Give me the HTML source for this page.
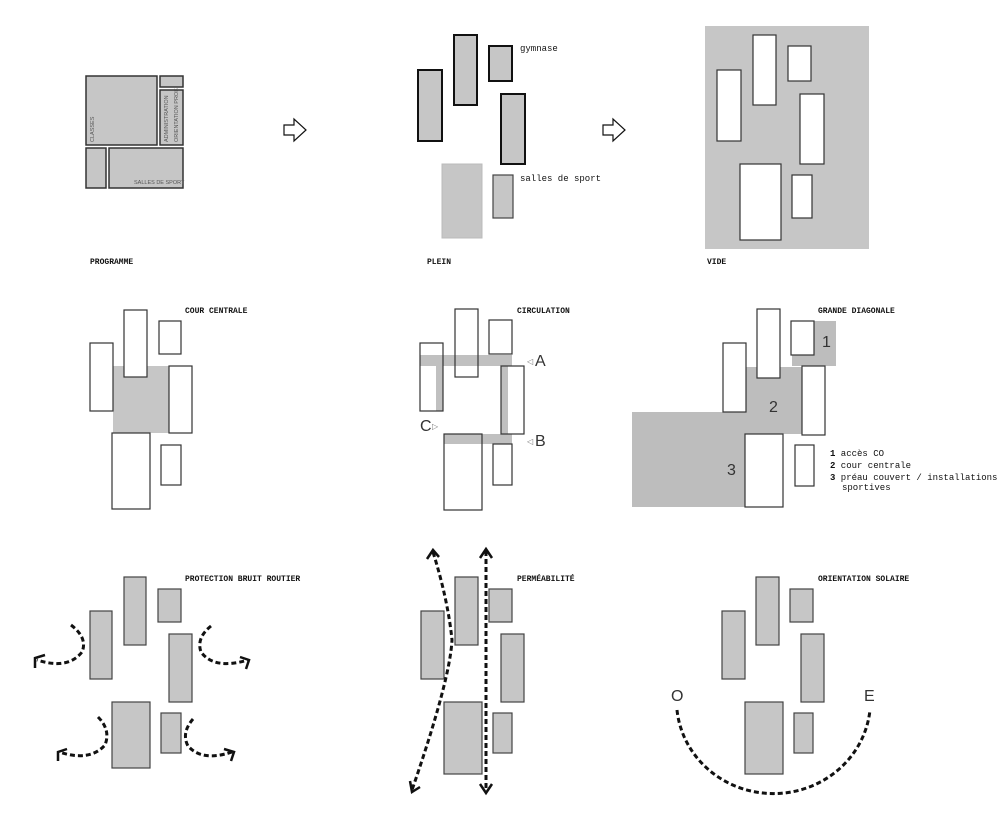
<!DOCTYPE html>
<html><head><meta charset="utf-8"><style>
html,body{margin:0;padding:0;background:#fff;}
svg{display:block;}
.t{font-family:"Liberation Mono",monospace;font-size:8px;font-weight:bold;fill:#111;}
.s{font-family:"Liberation Mono",monospace;font-size:9px;fill:#111;}
.big{font-family:"Liberation Sans",sans-serif;font-size:16px;fill:#333;}
.p{fill:#c6c6c6;stroke:#111;stroke-width:2;}
.q{fill:#c6c6c6;stroke:#444;stroke-width:1.2;}
.w{fill:#fff;stroke:#333;stroke-width:1.2;}
.o{fill:none;stroke:#333;stroke-width:1.2;}
.d{fill:none;stroke:#111;stroke-width:3;stroke-dasharray:5,3;}
.h{fill:none;stroke:#111;stroke-width:2.5;}
</style></head><body>
<svg width="1000" height="826" viewBox="0 0 1000 826" xmlns="http://www.w3.org/2000/svg">
<!-- PROGRAMME -->
<g fill="#c6c6c6" stroke="#333" stroke-width="1.5">
<rect x="86" y="76" width="71" height="69"/>
<rect x="160" y="76" width="23" height="11"/>
<rect x="160" y="90" width="23" height="55"/>
<rect x="86" y="148" width="20" height="40"/>
<rect x="109" y="148" width="74" height="40"/>
</g>
<g font-family="Liberation Sans,sans-serif" font-size="5.5" fill="#555">
<text transform="translate(94,142) rotate(-90)">CLASSES</text>
<text transform="translate(168,142) rotate(-90)">ADMINISTRATION</text>
<text transform="translate(178,142) rotate(-90)">ORIENTATION PROF.</text>
<text x="134" y="184">SALLES DE SPORT</text>
</g>
<text class="t" x="90" y="264">PROGRAMME</text>
<path d="M284 125 H294 V119 L306 130 L294 141 V135 H284 Z" fill="#fff" stroke="#111" stroke-width="1.2"/>
<path d="M603 125 H613 V119 L625 130 L613 141 V135 H603 Z" fill="#fff" stroke="#111" stroke-width="1.2"/>

<!-- PLEIN -->
<rect class="p" x="418" y="70" width="24" height="71"/>
<rect class="p" x="454" y="35" width="23" height="70"/>
<rect class="p" x="489" y="46" width="23" height="35"/>
<rect class="p" x="501" y="94" width="24" height="70"/>
<rect x="442" y="164" width="40" height="74" fill="#c6c6c6" stroke="#bbb" stroke-width="1"/>
<rect class="q" x="493" y="175" width="20" height="43"/>
<text class="s" x="520" y="51">gymnase</text>
<text class="s" x="520" y="181">salles de sport</text>
<text class="t" x="427" y="264">PLEIN</text>

<!-- VIDE -->
<rect x="705" y="26" width="164" height="223" fill="#c6c6c6"/>
<rect class="w" x="717" y="70" width="24" height="71"/>
<rect class="w" x="753" y="35" width="23" height="70"/>
<rect class="w" x="788" y="46" width="23" height="35"/>
<rect class="w" x="800" y="94" width="24" height="70"/>
<rect class="w" x="740" y="164" width="41" height="76"/>
<rect class="w" x="792" y="175" width="20" height="43"/>
<text class="t" x="707" y="264">VIDE</text>

<!-- COUR CENTRALE -->
<rect x="113" y="366" width="56" height="67" fill="#c6c6c6"/>
<rect class="w" x="90" y="343" width="23" height="68"/>
<rect class="w" x="124" y="310" width="23" height="67"/>
<rect class="w" x="159" y="321" width="22" height="33"/>
<rect class="w" x="169" y="366" width="23" height="67"/>
<rect class="w" x="112" y="433" width="38" height="76"/>
<rect class="w" x="161" y="445" width="20" height="40"/>
<text class="t" x="185" y="313">COUR CENTRALE</text>

<!-- CIRCULATION -->
<g fill="#c0c0c0">
<rect x="420" y="355" width="92" height="11"/>
<rect x="436" y="355" width="7" height="56"/>
<rect x="501" y="366" width="7" height="68"/>
<rect x="444" y="434" width="68" height="10"/>
</g>
<rect class="o" x="420" y="343" width="23" height="68"/>
<rect class="o" x="455" y="309" width="23" height="68"/>
<rect class="w" x="489" y="320" width="23" height="34"/>
<rect class="o" x="501" y="366" width="23" height="68"/>
<rect class="o" x="444" y="434" width="38" height="76"/>
<rect class="w" x="493" y="444" width="19" height="41"/>
<text class="t" x="517" y="313">CIRCULATION</text>
<text x="527" y="364" font-family="Liberation Sans,sans-serif" font-size="8" fill="#777">◁</text>
<text class="big" x="535" y="366">A</text>
<text class="big" x="420" y="431">C</text>
<text x="432" y="429" font-family="Liberation Sans,sans-serif" font-size="8" fill="#777">▷</text>
<text x="527" y="444" font-family="Liberation Sans,sans-serif" font-size="8" fill="#777">◁</text>
<text class="big" x="535" y="446">B</text>

<!-- GRANDE DIAGONALE -->
<g fill="#bdbdbd">
<rect x="792" y="321" width="44" height="45"/>
<rect x="746" y="367" width="56" height="67"/>
<rect x="632" y="412" width="114" height="95"/>
</g>
<rect class="w" x="723" y="343" width="23" height="69"/>
<rect class="w" x="757" y="309" width="23" height="69"/>
<rect class="w" x="791" y="321" width="23" height="34"/>
<rect class="w" x="802" y="366" width="23" height="69"/>
<rect class="w" x="745" y="434" width="38" height="73"/>
<rect class="w" x="795" y="445" width="19" height="41"/>
<text class="t" x="818" y="313">GRANDE DIAGONALE</text>
<text class="big" x="822" y="347" fill="#222">1</text>
<text class="big" x="769" y="412" fill="#222">2</text>
<text class="big" x="727" y="475" fill="#222">3</text>
<text class="s" x="830" y="456"><tspan font-weight="bold">1</tspan> accès CO</text>
<text class="s" x="830" y="468"><tspan font-weight="bold">2</tspan> cour centrale</text>
<text class="s" x="830" y="480"><tspan font-weight="bold">3</tspan> préau couvert / installations</text>
<text class="s" x="842" y="490">sportives</text>

<!-- PROTECTION -->
<rect class="q" x="90" y="611" width="22" height="68"/>
<rect class="q" x="124" y="577" width="22" height="68"/>
<rect class="q" x="158" y="589" width="23" height="33"/>
<rect class="q" x="169" y="634" width="23" height="68"/>
<rect class="q" x="112" y="702" width="38" height="66"/>
<rect class="q" x="161" y="713" width="20" height="40"/>
<text class="t" x="185" y="581">PROTECTION BRUIT ROUTIER</text>
<path class="d" d="M71 625 Q88 638 82 652 Q68 670 37 660"/>
<path class="h" d="M35 668 L35 658 L45 655"/>
<path class="d" d="M211 626 Q196 638 201 652 Q214 670 248 660"/>
<path class="h" d="M240 657 L249 660 L246 669"/>
<path class="d" d="M98 717 Q111 730 105 745 Q90 762 59 752"/>
<path class="h" d="M58 761 L58 752 L67 749"/>
<path class="d" d="M193 719 Q181 733 188 746 Q202 762 232 752"/>
<path class="h" d="M224 749 L234 752 L231 761"/>

<!-- PERMEABILITE -->
<rect class="q" x="421" y="611" width="23" height="68"/>
<rect class="q" x="455" y="577" width="23" height="68"/>
<rect class="q" x="489" y="589" width="23" height="33"/>
<rect class="q" x="501" y="634" width="23" height="68"/>
<rect class="q" x="444" y="702" width="38" height="72"/>
<rect class="q" x="493" y="713" width="19" height="40"/>
<text class="t" x="517" y="581">PERMÉABILITÉ</text>
<path class="d" d="M486 551 V791"/>
<path class="h" d="M480 558 L486 549 L492 558 M480 784 L486 793 L492 784"/>
<path class="d" d="M433 552 Q448 600 452 640 Q450 680 412 790"/>
<path class="h" d="M427 559 L433 550 L439 557 M410 781 L412 792 L420 787"/>

<!-- ORIENTATION -->
<rect class="q" x="722" y="611" width="23" height="68"/>
<rect class="q" x="756" y="577" width="23" height="68"/>
<rect class="q" x="790" y="589" width="23" height="33"/>
<rect class="q" x="801" y="634" width="23" height="68"/>
<rect class="q" x="745" y="702" width="38" height="72"/>
<rect class="q" x="794" y="713" width="19" height="40"/>
<text class="t" x="818" y="581">ORIENTATION SOLAIRE</text>
<text class="big" x="671" y="701">O</text>
<text class="big" x="864" y="701">E</text>
<path class="d" d="M677 710 A97 93 0 0 0 870 710"/>
</svg>
</body></html>
